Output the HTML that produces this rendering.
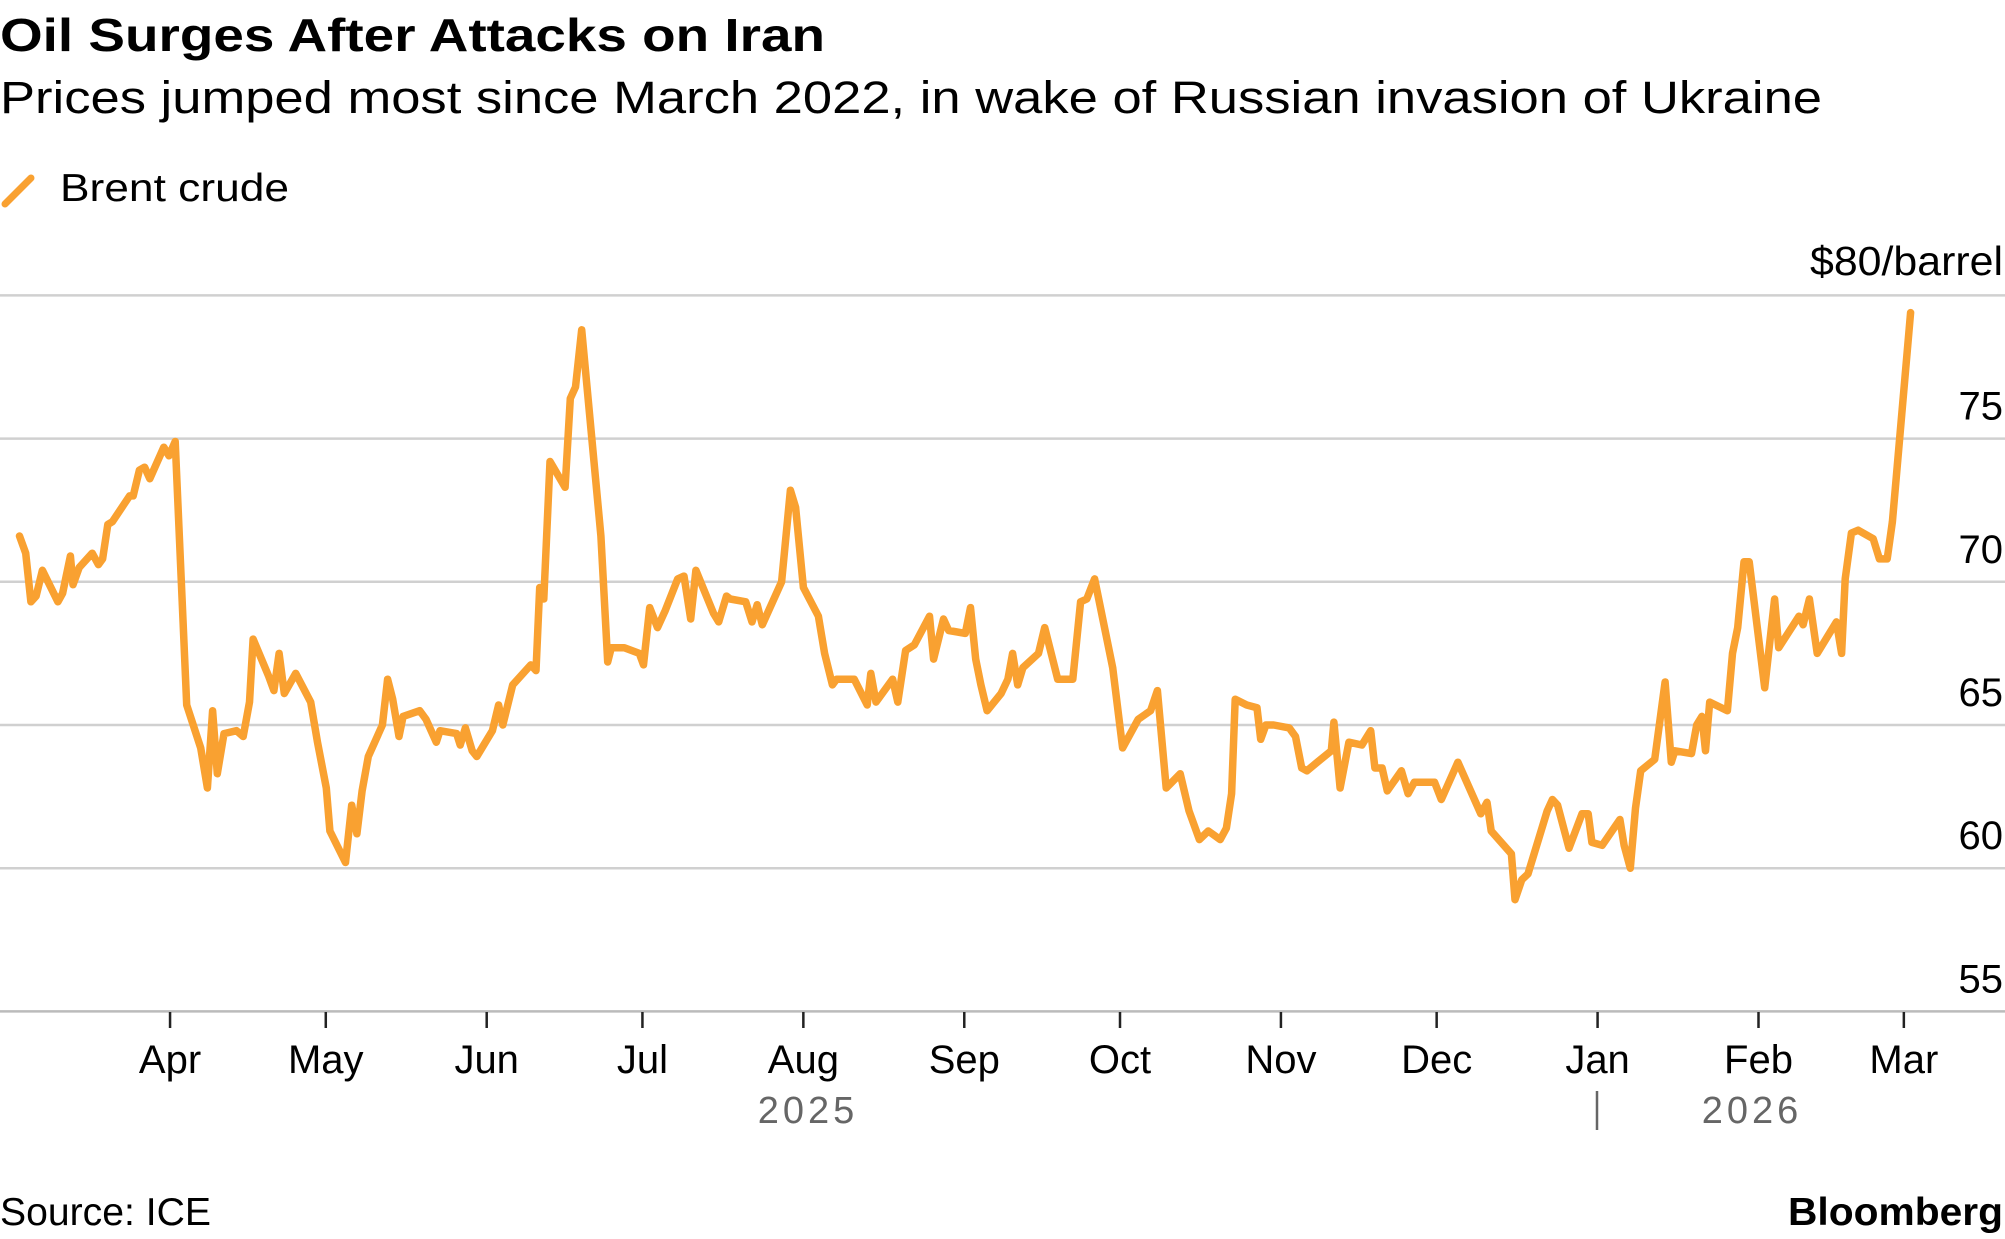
<!DOCTYPE html>
<html><head><meta charset="utf-8"><style>
html,body{margin:0;padding:0;background:#fff;}
svg{display:block;font-family:"Liberation Sans",sans-serif;}
</style></head><body>
<svg id="chart" width="2005" height="1239" viewBox="0 0 2005 1239" xmlns="http://www.w3.org/2000/svg">
<text x="0" y="51" font-size="46" font-weight="bold" fill="#000" textLength="825" lengthAdjust="spacingAndGlyphs">Oil Surges After Attacks on Iran</text>
<text x="0" y="113" font-size="45" fill="#000" textLength="1822" lengthAdjust="spacingAndGlyphs">Prices jumped most since March 2022, in wake of Russian invasion of Ukraine</text>
<g>
<line x1="5" y1="204" x2="31" y2="178" stroke="#F9A131" stroke-width="7" stroke-linecap="round"/>
<text x="60" y="201" font-size="39" fill="#000" textLength="229" lengthAdjust="spacingAndGlyphs">Brent crude</text>
</g>
<text x="2003" y="275" font-size="41" fill="#000" text-anchor="end" textLength="193" lengthAdjust="spacingAndGlyphs">$80/barrel</text>
<g id="grid"></g>
<g id="xaxis"></g>
<g id="series"></g>
<text x="808" y="1123" font-size="38" fill="#666" text-anchor="middle" letter-spacing="4">2025</text>
<line x1="1597" y1="1091" x2="1597" y2="1130" stroke="#666" stroke-width="2.5"/>
<text x="1752" y="1123" font-size="38" fill="#666" text-anchor="middle" letter-spacing="4">2026</text>
<text x="0" y="1225" font-size="39" fill="#000" textLength="211" lengthAdjust="spacingAndGlyphs">Source: ICE</text>
<text x="2003" y="1225" font-size="39" font-weight="bold" fill="#000" text-anchor="end" textLength="215" lengthAdjust="spacingAndGlyphs">Bloomberg</text>
</svg>
<script>
// days since 2025-03-01
const days = [2.0,3.2,4.2,5.2,6.4,9.4,10.3,11.8,12.3,13.5,16.0,17.2,18.0,19.0,19.9,23.2,23.9,25.1,26.1,27.1,29.8,30.8,32.0,34.2,36.9,38.2,39.2,40.1,41.4,43.8,45.1,46.3,47.0,50.0,51.0,52.0,53.0,55.2,58.1,59.4,61.1,61.8,64.8,66.0,67.0,68.0,69.2,71.9,72.9,73.9,75.1,75.9,79.1,80.3,82.3,83.0,86.2,86.9,87.9,89.2,90.1,93.1,94.3,95.1,97.0,98.0,100.5,101.5,102.2,103.0,104.2,107.1,108.1,109.1,110.3,114.0,115.3,116.0,118.5,121.4,122.2,123.4,124.9,126.4,128.8,130.0,131.3,132.3,135.7,136.7,138.2,138.9,141.9,143.1,144.1,145.1,148.8,150.5,151.5,153.0,155.9,157.1,158.6,159.4,162.8,165.3,166.0,167.0,170.2,171.2,172.7,174.4,177.3,178.1,180.0,181.0,184.2,185.2,186.2,187.2,188.4,191.1,192.4,193.3,194.3,195.3,198.3,199.5,202.0,204.9,206.4,207.6,209.1,212.6,214.5,217.5,219.9,221.2,222.9,225.6,227.3,229.3,231.0,233.3,234.5,235.5,236.2,238.4,240.4,241.1,242.1,243.6,246.6,247.8,249.0,250.0,252.0,254.7,255.2,256.4,258.1,260.6,262.3,263.1,264.5,265.5,268.2,269.5,270.7,274.6,275.9,279.1,283.5,284.7,285.5,289.4,290.1,291.4,292.6,296.3,297.3,298.3,300.5,303.0,304.2,304.9,306.9,310.3,311.1,312.3,313.3,314.3,317.0,319.0,320.2,320.9,324.1,325.1,326.1,326.8,327.6,331.0,332.0,333.0,334.2,335.2,338.2,340.1,340.9,344.8,345.6,346.8,348.3,352.0,353.0,353.7,354.9,356.2,359.1,360.3,361.8,362.8,366.3];
const brent = [71.6,71.0,69.3,69.5,70.4,69.3,69.6,70.9,69.9,70.5,71.0,70.6,70.8,72.0,72.1,73.0,73.0,73.9,74.0,73.6,74.7,74.4,74.9,65.7,64.2,62.8,65.5,63.3,64.7,64.8,64.6,65.8,68.0,66.7,66.2,67.5,66.1,66.8,65.8,64.4,62.8,61.3,60.2,62.2,61.2,62.7,63.9,65.0,66.6,65.9,64.6,65.3,65.5,65.2,64.4,64.8,64.7,64.3,64.9,64.1,63.9,64.8,65.7,65.0,66.4,66.6,67.1,66.9,69.8,69.4,74.2,73.3,76.4,76.8,78.8,71.6,67.2,67.7,67.7,67.5,67.1,69.1,68.4,69.0,70.1,70.2,68.7,70.4,68.9,68.6,69.5,69.4,69.3,68.6,69.2,68.5,70.0,73.2,72.6,69.8,68.8,67.5,66.4,66.6,66.6,65.7,66.8,65.8,66.6,65.8,67.6,67.8,68.8,67.3,68.7,68.3,68.2,69.1,67.3,66.4,65.5,66.1,66.6,67.5,66.4,67.0,67.5,68.4,66.6,66.6,69.3,69.4,70.1,67.0,64.2,65.2,65.5,66.2,62.8,63.3,62.0,61.0,61.3,61.0,61.4,62.6,65.9,65.7,65.6,64.5,65.0,65.0,64.9,64.6,63.5,63.4,63.7,64.1,65.1,62.8,64.4,64.3,64.8,63.5,63.5,62.7,63.4,62.6,63.0,63.0,62.4,63.7,61.9,62.3,61.3,60.5,58.9,59.6,59.8,62.0,62.4,62.2,60.7,61.9,61.9,60.9,60.8,61.7,60.8,60.0,62.1,63.4,63.8,66.5,63.7,64.1,64.0,65.0,65.3,64.1,65.8,65.5,67.5,68.4,70.7,70.7,66.3,69.4,67.7,68.8,68.5,69.4,67.5,68.6,67.5,70.1,71.7,71.8,71.5,70.8,70.8,72.1,79.4];
const yTicks = [55,60,65,70,75,80];
const yTickLabels = ["55","60","65","70","75",""];
const monthDays = [31,61,92,122,153,184,214,245,275,306,337,365];
const monthLabels = ["Apr","May","Jun","Jul","Aug","Sep","Oct","Nov","Dec","Jan","Feb","Mar"];

const NS = "http://www.w3.org/2000/svg";
const xScale = d => 9.13 + 5.191 * d;
const yScale = v => 295.4 + (80 - v) * 28.64;

const grid = document.getElementById('grid');
yTicks.forEach((t, i) => {
  const y = yScale(t);
  const ln = document.createElementNS(NS, 'line');
  
  
  ln.setAttribute('x1', 0); ln.setAttribute('x2', 2005);
  ln.setAttribute('y1', y); ln.setAttribute('y2', y);
  ln.setAttribute('stroke', i === 0 ? '#bbb' : '#d0d0d0');
  ln.setAttribute('stroke-width', 2.5);
  grid.appendChild(ln);
  if (yTickLabels[i]) {
    const tx = document.createElementNS(NS, 'text');
    
    
    tx.setAttribute('x', 2003); tx.setAttribute('y', y - 19);
    tx.setAttribute('text-anchor', 'end');
    tx.setAttribute('font-size', 40);
    tx.textContent = yTickLabels[i];
    grid.appendChild(tx);
  }
});

const xa = document.getElementById('xaxis');
monthDays.forEach((d, i) => {
  const x = xScale(d);
  const tk = document.createElementNS(NS, 'line');
  
  
  tk.setAttribute('x1', x); tk.setAttribute('x2', x);
  tk.setAttribute('y1', 1012); tk.setAttribute('y2', 1028);
  tk.setAttribute('stroke', '#222'); tk.setAttribute('stroke-width', 2.5);
  xa.appendChild(tk);
  const tx = document.createElementNS(NS, 'text');
  
  
  tx.setAttribute('x', x); tx.setAttribute('y', 1073);
  tx.setAttribute('text-anchor', 'middle');
  tx.setAttribute('font-size', 40);
  tx.textContent = monthLabels[i];
  xa.appendChild(tx);
});

const pts = days.map((d, i) => xScale(d).toFixed(1) + ',' + yScale(brent[i]).toFixed(1)).join(' ');
const pl = document.createElementNS(NS, 'polyline');


pl.setAttribute('points', pts);
pl.setAttribute('fill', 'none');
pl.setAttribute('stroke', '#F9A131');
pl.setAttribute('stroke-width', 7.5);
pl.setAttribute('stroke-linejoin', 'round');
pl.setAttribute('stroke-linecap', 'round');
document.getElementById('series').appendChild(pl);
</script>
</body></html>
